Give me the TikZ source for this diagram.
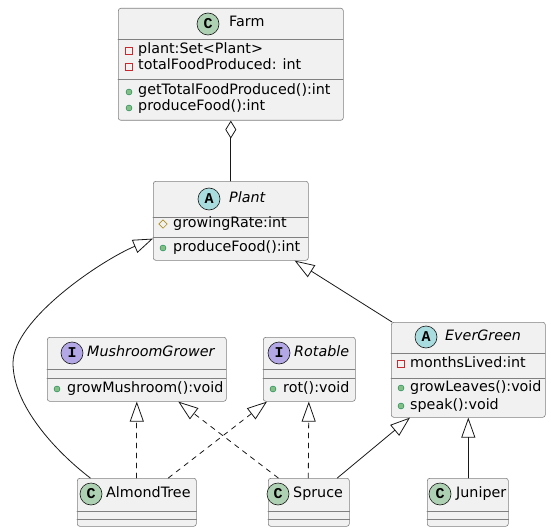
\documentclass[tikz,border=0pt]{standalone}
\usepackage{fontspec}
\setmainfont{DejaVu Sans}
\newfontfamily\spotfont{Liberation Mono}
\usetikzlibrary{arrows.meta}
\definecolor{umlfill}{HTML}{F1F1F1}
\definecolor{umlline}{HTML}{181818}
\definecolor{spotclass}{HTML}{ADD1B2}
\definecolor{spotabstract}{HTML}{A9DCDF}
\definecolor{spotinterface}{HTML}{B4A7E5}
\definecolor{privred}{HTML}{C82930}
\definecolor{pubgreen}{HTML}{84BE84}
\definecolor{pubedge}{HTML}{038048}
\definecolor{protgold}{HTML}{B38D22}

\begin{document}
\begin{tikzpicture}[x=1pt,y=-1pt,line cap=round,
  classbox/.style={draw=umlline!55,fill=umlfill,line width=.6pt,
    rounded corners=2.5pt,anchor=north west,inner sep=0pt},
  sep/.style={draw=umlline!55,line width=.6pt},
  spot/.style={circle,draw=umlline,line width=.6pt,minimum size=22pt,
    inner sep=0pt,font=\spotfont\bfseries\fontsize{15}{15}\selectfont},
  title/.style={anchor=west,inner sep=0pt,text height=10pt,text depth=4pt,
    font=\fontsize{14.3}{17}\selectfont},
  member/.style={anchor=west,inner sep=0pt,text height=10pt,text depth=4pt,
    font=\fontsize{14.3}{17}\selectfont},
  priv/.style={rectangle,draw=privred,line width=.7pt,minimum size=7pt,inner sep=0pt},
  pub/.style={circle,fill=pubgreen,draw=pubedge,line width=.4pt,minimum size=6pt,inner sep=0pt},
  prot/.style={rectangle,rotate=45,draw=protgold,line width=.7pt,minimum size=6pt,inner sep=0pt},
  ext/.style={draw=umlline,line width=.8pt,-{Triangle[open,length=20pt,width=14pt]}},
  impl/.style={ext,dash pattern=on 5pt off 5pt},
  agg/.style={draw=umlline,line width=.8pt,{Diamond[open,length=18pt,width=11pt]}-}]
  \useasboundingbox (0,0) rectangle (551,532);

  % Farm
  \node[classbox,minimum width=225pt,minimum height=112pt] (farm) at (118,8) {};
  \draw[sep] (118,39) -- (343,39);
  \draw[sep] (118,79) -- (343,79);
  \node[spot,fill=spotclass] (farmspot) at (208,24) {C};
  \node[title] (farmname) at (229,24) {Farm};
  \node[priv] (farmp1) at (129,51) {};
  \node[member] (farmm1) at (138,51) {plant:Set<Plant>};
  \node[priv] (farmp2) at (129,67) {};
  \node[member] (farmm2) at (138,67) {totalFoodProduced: int};
  \node[pub] (farmp3) at (129,92) {};
  \node[member] (farmm3) at (138,92) {getTotalFoodProduced():int};
  \node[pub] (farmp4) at (129,108) {};
  \node[member] (farmm4) at (138,108) {produceFood():int};

  % Plant
  \node[classbox,minimum width=155pt,minimum height=79pt] (plant) at (153,181) {};
  \draw[sep] (153,217) -- (308,217);
  \draw[sep] (153,237) -- (308,237);
  \node[spot,fill=spotabstract] (plantspot) at (209,199) {A};
  \node[title] (plantname) at (229,199) {\itshape Plant};
  \node[prot] (plantp1) at (163,224) {};
  \node[member] (plantm1) at (173,224) {growingRate:int};
  \node[pub] (plantp2) at (163,248) {};
  \node[member] (plantm2) at (173,248) {produceFood():int};

  % interfaces
  \node[classbox,minimum width=179pt,minimum height=64pt] (mush) at (47,337) {};
  \draw[sep] (47,369) -- (226,369);
  \draw[sep] (47,378) -- (226,378);
  \node[spot,fill=spotinterface] (mushspot) at (72,353) {I};
  \node[title] (mushname) at (87,353) {\itshape MushroomGrower};
  \node[pub] (mushp1) at (57,389) {};
  \node[member] (mushm1) at (67,389) {growMushroom():void};

  \node[classbox,minimum width=92pt,minimum height=64pt] (rot) at (263,337) {};
  \draw[sep] (263,369) -- (355,369);
  \draw[sep] (263,378) -- (355,378);
  \node[spot,fill=spotinterface] (rotspot) at (279,353) {I};
  \node[title] (rotname) at (294,353) {\itshape Rotable};
  \node[pub] (rotp1) at (273,389) {};
  \node[member] (rotm1) at (283,389) {rot():void};

  % EverGreen
  \node[classbox,minimum width=154pt,minimum height=95pt] (ever) at (391,322) {};
  \draw[sep] (391,353) -- (545,353);
  \draw[sep] (391,378) -- (545,378);
  \node[spot,fill=spotabstract] (everspot) at (426,337) {A};
  \node[title] (evername) at (445,337) {\itshape EverGreen};
  \node[priv] (everp1) at (401,364) {};
  \node[member] (everm1) at (410,364) {monthsLived:int};
  \node[pub] (everp2) at (401,388) {};
  \node[member] (everm2) at (410,388) {growLeaves():void};
  \node[pub] (everp3) at (401,406) {};
  \node[member] (everm3) at (410,406) {speak():void};

  % leaf classes
  \node[classbox,minimum width=119pt,minimum height=48pt] (almond) at (77,478) {};
  \node[spot,fill=spotclass] (almondspot) at (91,494) {C};
  \node[title] (almondname) at (106,494) {AlmondTree};
  \node[classbox,minimum width=81pt,minimum height=48pt] (spruce) at (268,478) {};
  \node[spot,fill=spotclass] (sprucespot) at (278,494) {C};
  \node[title] (sprucename) at (293,494) {Spruce};
  \node[classbox,minimum width=81pt,minimum height=48pt] (juniper) at (427,478) {};
  \node[spot,fill=spotclass] (juniperspot) at (440,494) {C};
  \node[title] (junipername) at (456,494) {Juniper};
  \foreach \b in {almond,spruce,juniper} {
    \draw[sep] ([yshift=-33pt]\b.north west) -- ([yshift=-33pt]\b.north east);
    \draw[sep] ([yshift=-41pt]\b.north west) -- ([yshift=-41pt]\b.north east);
  }

  % relations
  \draw[agg] (farm.south) -- (plant.north);
  \draw[ext] ([xshift=-46.5pt]almond.north)
    .. controls (55,451) and (13,405) .. (13,363)
    .. controls (13,320) and (100,261) .. ([yshift=22pt]plant.south west);
  \draw[ext] ([xshift=1pt]ever.north west) -- ([xshift=-14pt]plant.south east);
  \draw[impl] (almond.north) -- (mush.south);
  \draw[impl] ([xshift=-30.5pt]spruce.north) -- ([xshift=41.5pt]mush.south);
  \draw[impl] ([xshift=31.5pt]almond.north) -- ([xshift=4pt]rot.south west);
  \draw[impl] ([xshift=-.5pt]spruce.north) -- ([xshift=-.5pt]rot.south);
  \draw[ext] ([xshift=28.5pt]spruce.north) -- ([xshift=19pt]ever.south west);
  \draw[ext] ([xshift=.5pt]juniper.north) -- (ever.south);
\end{tikzpicture}
\end{document}
